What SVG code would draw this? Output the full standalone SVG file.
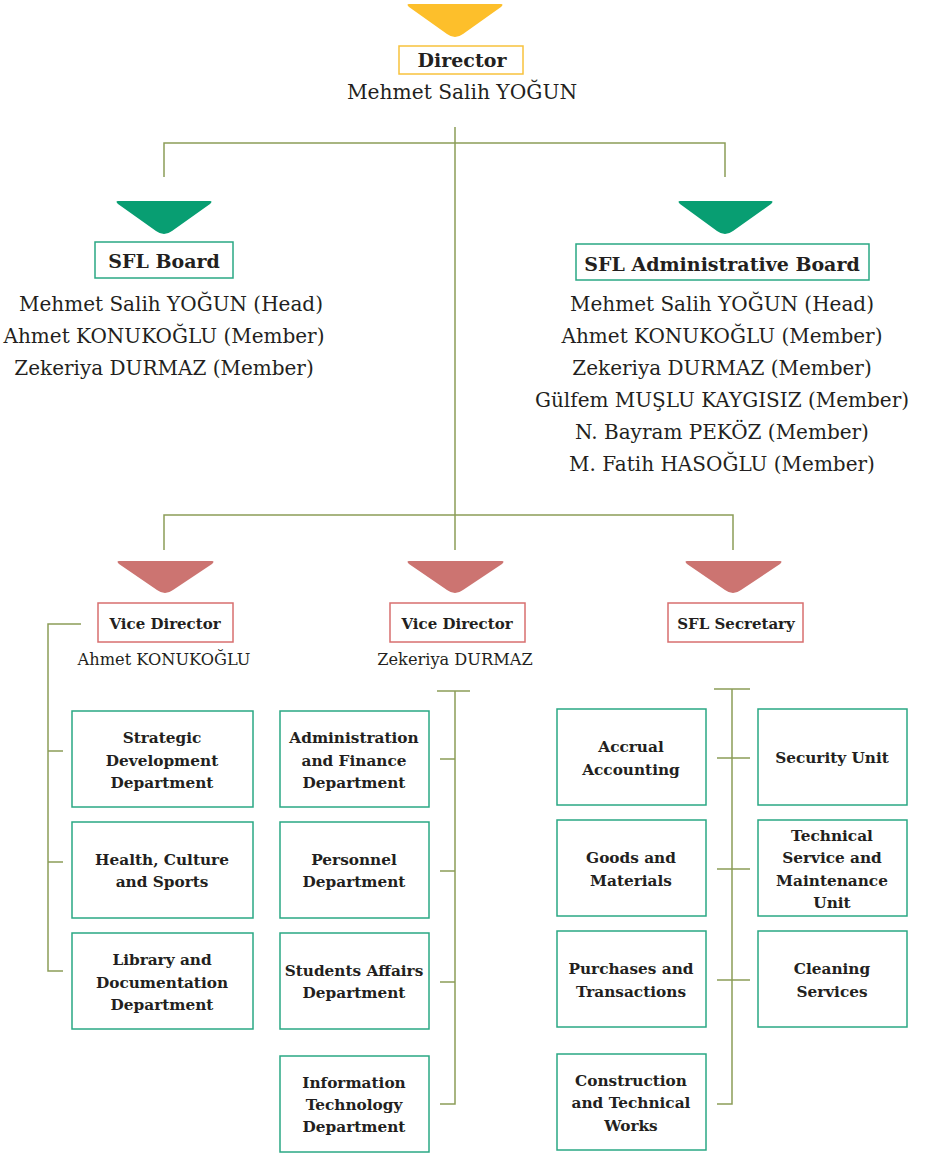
<svg xmlns="http://www.w3.org/2000/svg" width="925" height="1153" viewBox="0 0 925 1153">
<style>
text{font-family:"DejaVu Serif","Liberation Serif",serif;fill:#231f20;text-anchor:middle}
.t{font-weight:bold;font-size:19px}
.n{font-size:20.2px}
.nb{font-size:20px}
.vt{font-weight:bold;font-size:15px}
.vn{font-size:16.2px}
.b{font-weight:bold;font-size:15.3px}
.box{fill:#fff;stroke:#2aa884;stroke-width:1.5}
.ybox{fill:#fff;stroke:#f8c23c;stroke-width:1.5}
.rbox{fill:#fff;stroke:#d86f6f;stroke-width:1.5}
.ln{fill:none;stroke:#8c9d58;stroke-width:1.5}
</style>
<g id="connectors">
<path class="ln" d="M455,127 V550 M164,177 V143 H725 V177 M164,550 V515 H733 V550"/>
<path class="ln" d="M81,624 H48 V971 H63 M48,751 H63 M48,862 H63"/>
<path class="ln" d="M437,691 H470 M455,691 V1104 H440 M440,759 H455 M440,871 H455 M440,982 H455"/>
<path class="ln" d="M714,689 H750 M732,689 V1104 H717 M717,758 H750 M717,869 H750 M717,980 H750"/>
</g>
<g id="director">
<path d="M409,4 H501 Q504,4 501,7 L463,34 Q455,40 447,34 L409,7 Q406,4 409,4 Z" fill="#fdbf2b"/>
<rect class="ybox" x="399" y="46" width="124" height="28"/>
<text class="t" x="462" y="67">Director</text>
<text class="n" x="462" y="99">Mehmet Salih YOĞUN</text>
</g>
<g id="sfl-board">
<path d="M118,201 H210 Q213,201 210,204 L172,231 Q164,237 156,231 L118,204 Q115,201 118,201 Z" fill="#089e72"/>
<rect class="box" x="95" y="242" width="138" height="36"/>
<text class="t" x="164" y="268">SFL Board</text>
<text class="nb" x="171" y="311">Mehmet Salih YOĞUN (Head)</text>
<text class="nb" x="164" y="343">Ahmet KONUKOĞLU (Member)</text>
<text class="nb" x="164" y="375">Zekeriya DURMAZ (Member)</text>
</g>
<g id="sfl-admin-board">
<path d="M680,201 H771 Q774,201 771,204 L733,231 Q725,237 717,231 L680,204 Q677,201 680,201 Z" fill="#089e72"/>
<rect class="box" x="576" y="244" width="293" height="36"/>
<text class="t" x="722" y="271">SFL Administrative Board</text>
<text class="nb" x="722" y="311">Mehmet Salih YOĞUN (Head)</text>
<text class="nb" x="722" y="343">Ahmet KONUKOĞLU (Member)</text>
<text class="nb" x="722" y="375">Zekeriya DURMAZ (Member)</text>
<text class="nb" x="722" y="407">Gülfem MUŞLU KAYGISIZ (Member)</text>
<text class="nb" x="722" y="439">N. Bayram PEKÖZ (Member)</text>
<text class="nb" x="722" y="471">M. Fatih HASOĞLU (Member)</text>
</g>
<g id="vice-director-1">
<path d="M119,561 H212 Q215,561 212,564 L173,590 Q165,596 157,590 L119,564 Q116,561 119,561 Z" fill="#cc7471"/>
<rect class="rbox" x="98" y="603" width="135" height="39"/>
<text class="vt" x="165" y="629">Vice Director</text>
<text class="vn" x="164" y="665">Ahmet KONUKOĞLU</text>
</g>
<g id="vice-director-2">
<path d="M409,561 H502 Q505,561 502,564 L463,590 Q455,596 447,590 L409,564 Q406,561 409,561 Z" fill="#cc7471"/>
<rect class="rbox" x="390" y="603" width="135" height="39"/>
<text class="vt" x="457" y="629">Vice Director</text>
<text class="vn" x="455" y="665">Zekeriya DURMAZ</text>
</g>
<g id="sfl-secretary">
<path d="M687,561 H780 Q783,561 780,564 L741,590 Q733,596 725,590 L687,564 Q684,561 687,561 Z" fill="#cc7471"/>
<rect class="rbox" x="668" y="603" width="135" height="39"/>
<text class="vt" x="736" y="629">SFL Secretary</text>
</g>
<g id="strategic-development">
<rect class="box" x="72" y="711" width="181" height="96"/>
<text class="b" x="162" y="743">Strategic</text>
<text class="b" x="162" y="766">Development</text>
<text class="b" x="162" y="788">Department</text>
</g>
<g id="health-culture-sports">
<rect class="box" x="72" y="822" width="181" height="96"/>
<text class="b" x="162" y="865">Health, Culture</text>
<text class="b" x="162" y="887">and Sports</text>
</g>
<g id="library-documentation">
<rect class="box" x="72" y="933" width="181" height="96"/>
<text class="b" x="162" y="965">Library and</text>
<text class="b" x="162" y="988">Documentation</text>
<text class="b" x="162" y="1010">Department</text>
</g>
<g id="administration-finance">
<rect class="box" x="280" y="711" width="149" height="96"/>
<text class="b" x="354" y="743">Administration</text>
<text class="b" x="354" y="766">and Finance</text>
<text class="b" x="354" y="788">Department</text>
</g>
<g id="personnel">
<rect class="box" x="280" y="822" width="149" height="96"/>
<text class="b" x="354" y="865">Personnel</text>
<text class="b" x="354" y="887">Department</text>
</g>
<g id="students-affairs">
<rect class="box" x="280" y="933" width="149" height="96"/>
<text class="b" x="354" y="976">Students Affairs</text>
<text class="b" x="354" y="998">Department</text>
</g>
<g id="information-technology">
<rect class="box" x="280" y="1056" width="149" height="96"/>
<text class="b" x="354" y="1088">Information</text>
<text class="b" x="354" y="1110">Technology</text>
<text class="b" x="354" y="1132">Department</text>
</g>
<g id="accrual-accounting">
<rect class="box" x="557" y="709" width="149" height="96"/>
<text class="b" x="631" y="752">Accrual</text>
<text class="b" x="631" y="775">Accounting</text>
</g>
<g id="goods-materials">
<rect class="box" x="557" y="820" width="149" height="96"/>
<text class="b" x="631" y="863">Goods and</text>
<text class="b" x="631" y="886">Materials</text>
</g>
<g id="purchases-transactions">
<rect class="box" x="557" y="931" width="149" height="96"/>
<text class="b" x="631" y="974">Purchases and</text>
<text class="b" x="631" y="997">Transactions</text>
</g>
<g id="construction-technical">
<rect class="box" x="557" y="1054" width="149" height="96"/>
<text class="b" x="631" y="1086">Construction</text>
<text class="b" x="631" y="1108">and Technical</text>
<text class="b" x="631" y="1131">Works</text>
</g>
<g id="security-unit">
<rect class="box" x="758" y="709" width="149" height="96"/>
<text class="b" x="832" y="763">Security Unit</text>
</g>
<g id="technical-service">
<rect class="box" x="758" y="820" width="149" height="96"/>
<text class="b" x="832" y="841">Technical</text>
<text class="b" x="832" y="863">Service and</text>
<text class="b" x="832" y="886">Maintenance</text>
<text class="b" x="832" y="908">Unit</text>
</g>
<g id="cleaning-services">
<rect class="box" x="758" y="931" width="149" height="96"/>
<text class="b" x="832" y="974">Cleaning</text>
<text class="b" x="832" y="997">Services</text>
</g>
</svg>
